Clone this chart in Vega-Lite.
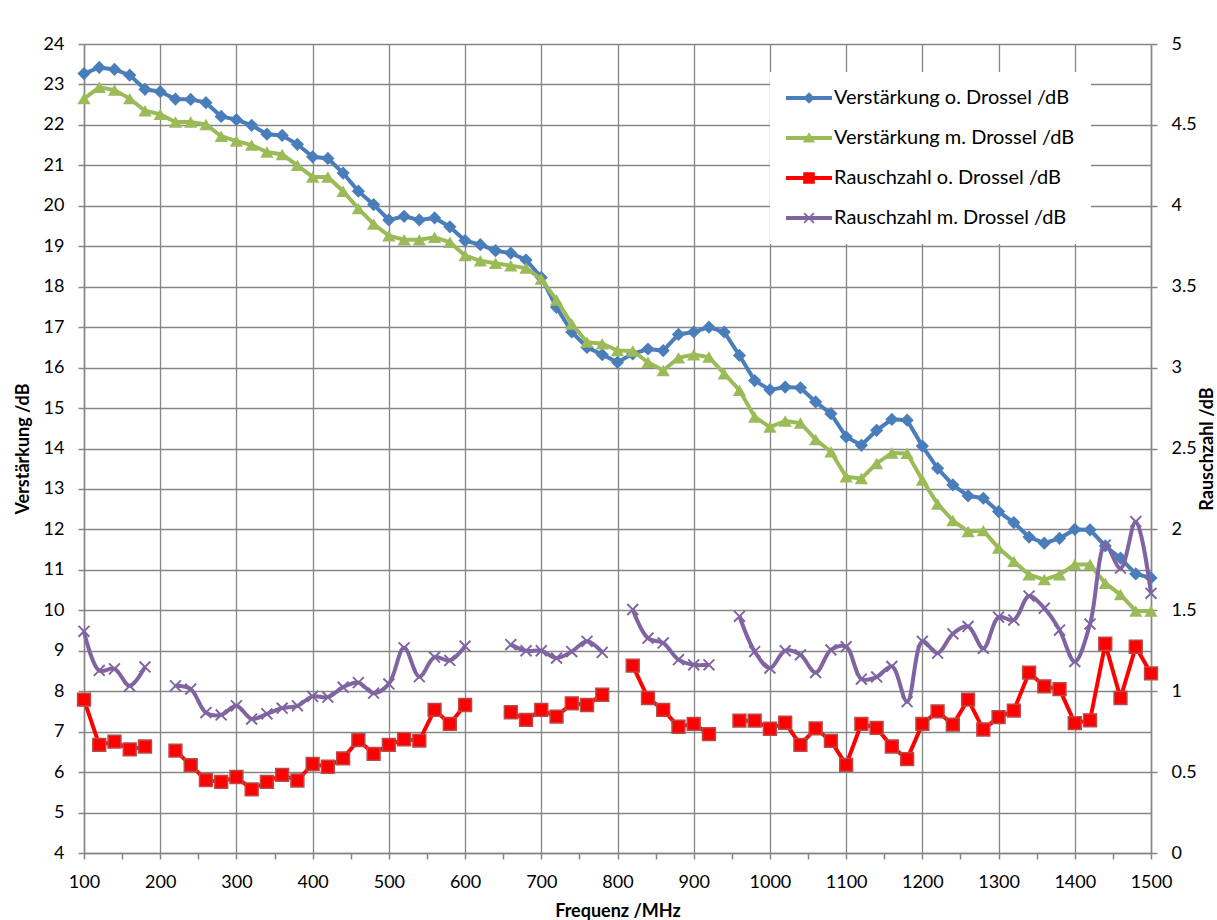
{
  "$schema": "https://vega.github.io/schema/vega-lite/v6.json",
  "width": 1067,
  "height": 809,
  "autosize": {"type": "none"},
  "padding": {"left": 84, "top": 44, "right": 66, "bottom": 67},
  "background": "white",
  "config": {
    "view": {"stroke": null},
    "font": "Lato",
    "axis": {
      "labelFont": "Lato", "labelFontSize": 18, "labelColor": "#000000",
      "titleFont": "Lato", "titleFontSize": 18, "titleFontWeight": "bold", "titleColor": "#000000",
      "domainColor": "#868686", "domainWidth": 1.5,
      "tickColor": "#868686", "tickWidth": 1.5, "tickSize": 6,
      "gridColor": "#868686", "gridWidth": 1.3,
      "labelPadding": 14, "labelOverlap": false, "labelFlush": false
    }
  },
  "data": {"values": [
    {"f":100,"vo":23.27,"vm":22.65,"ro":0.948,"rm":1.37},
    {"f":120,"vo":23.42,"vm":22.93,"ro":0.668,"rm":1.128},
    {"f":140,"vo":23.37,"vm":22.86,"ro":0.688,"rm":1.138},
    {"f":160,"vo":23.23,"vm":22.65,"ro":0.64,"rm":1.033},
    {"f":180,"vo":22.88,"vm":22.35,"ro":0.658,"rm":1.15},
    {"f":200,"vo":22.82,"vm":22.26,"ro":null,"rm":null},
    {"f":220,"vo":22.64,"vm":22.07,"ro":0.633,"rm":1.033},
    {"f":240,"vo":22.63,"vm":22.07,"ro":0.543,"rm":1.013},
    {"f":260,"vo":22.55,"vm":22.01,"ro":0.45,"rm":0.868},
    {"f":280,"vo":22.21,"vm":21.72,"ro":0.44,"rm":0.853},
    {"f":300,"vo":22.13,"vm":21.6,"ro":0.47,"rm":0.91},
    {"f":320,"vo":21.99,"vm":21.5,"ro":0.393,"rm":0.828},
    {"f":340,"vo":21.77,"vm":21.33,"ro":0.44,"rm":0.86},
    {"f":360,"vo":21.74,"vm":21.27,"ro":0.483,"rm":0.895},
    {"f":380,"vo":21.52,"vm":21.0,"ro":0.448,"rm":0.91},
    {"f":400,"vo":21.21,"vm":20.71,"ro":0.55,"rm":0.968},
    {"f":420,"vo":21.17,"vm":20.71,"ro":0.533,"rm":0.963},
    {"f":440,"vo":20.81,"vm":20.36,"ro":0.585,"rm":1.025},
    {"f":460,"vo":20.36,"vm":19.93,"ro":0.698,"rm":1.053},
    {"f":480,"vo":20.03,"vm":19.55,"ro":0.613,"rm":0.988},
    {"f":500,"vo":19.65,"vm":19.26,"ro":0.668,"rm":1.045},
    {"f":520,"vo":19.74,"vm":19.16,"ro":0.703,"rm":1.268},
    {"f":540,"vo":19.65,"vm":19.16,"ro":0.695,"rm":1.09},
    {"f":560,"vo":19.7,"vm":19.22,"ro":0.885,"rm":1.21},
    {"f":580,"vo":19.48,"vm":19.1,"ro":0.798,"rm":1.19},
    {"f":600,"vo":19.14,"vm":18.77,"ro":0.915,"rm":1.278},
    {"f":620,"vo":19.04,"vm":18.64,"ro":null,"rm":null},
    {"f":640,"vo":18.89,"vm":18.58,"ro":null,"rm":null},
    {"f":660,"vo":18.83,"vm":18.52,"ro":0.87,"rm":1.288},
    {"f":680,"vo":18.66,"vm":18.46,"ro":0.823,"rm":1.25},
    {"f":700,"vo":18.23,"vm":18.19,"ro":0.885,"rm":1.25},
    {"f":720,"vo":17.49,"vm":17.67,"ro":0.843,"rm":1.205},
    {"f":740,"vo":16.88,"vm":17.08,"ro":0.925,"rm":1.245},
    {"f":760,"vo":16.5,"vm":16.63,"ro":0.915,"rm":1.308},
    {"f":780,"vo":16.32,"vm":16.59,"ro":0.978,"rm":1.24},
    {"f":800,"vo":16.13,"vm":16.42,"ro":null,"rm":null},
    {"f":820,"vo":16.34,"vm":16.41,"ro":1.158,"rm":1.505},
    {"f":840,"vo":16.46,"vm":16.13,"ro":0.958,"rm":1.328},
    {"f":860,"vo":16.42,"vm":15.93,"ro":0.885,"rm":1.298},
    {"f":880,"vo":16.82,"vm":16.24,"ro":0.78,"rm":1.195},
    {"f":900,"vo":16.88,"vm":16.32,"ro":0.798,"rm":1.163},
    {"f":920,"vo":17.0,"vm":16.26,"ro":0.735,"rm":1.163},
    {"f":940,"vo":16.88,"vm":15.85,"ro":null,"rm":null},
    {"f":960,"vo":16.3,"vm":15.44,"ro":0.818,"rm":1.463},
    {"f":980,"vo":15.68,"vm":14.78,"ro":0.818,"rm":1.245},
    {"f":1000,"vo":15.45,"vm":14.53,"ro":0.768,"rm":1.143},
    {"f":1020,"vo":15.52,"vm":14.68,"ro":0.805,"rm":1.25},
    {"f":1040,"vo":15.5,"vm":14.63,"ro":0.668,"rm":1.225},
    {"f":1060,"vo":15.15,"vm":14.22,"ro":0.77,"rm":1.115},
    {"f":1080,"vo":14.86,"vm":13.92,"ro":0.693,"rm":1.255},
    {"f":1100,"vo":14.29,"vm":13.3,"ro":0.545,"rm":1.275},
    {"f":1120,"vo":14.08,"vm":13.26,"ro":0.798,"rm":1.075},
    {"f":1140,"vo":14.45,"vm":13.63,"ro":0.773,"rm":1.088},
    {"f":1160,"vo":14.72,"vm":13.89,"ro":0.658,"rm":1.153},
    {"f":1180,"vo":14.7,"vm":13.88,"ro":0.58,"rm":0.935},
    {"f":1200,"vo":14.06,"vm":13.22,"ro":0.798,"rm":1.308},
    {"f":1220,"vo":13.51,"vm":12.63,"ro":0.875,"rm":1.235},
    {"f":1240,"vo":13.1,"vm":12.22,"ro":0.793,"rm":1.355},
    {"f":1260,"vo":12.83,"vm":11.95,"ro":0.948,"rm":1.4},
    {"f":1280,"vo":12.77,"vm":11.97,"ro":0.763,"rm":1.265},
    {"f":1300,"vo":12.44,"vm":11.54,"ro":0.84,"rm":1.458},
    {"f":1320,"vo":12.17,"vm":11.21,"ro":0.88,"rm":1.44},
    {"f":1340,"vo":11.81,"vm":10.88,"ro":1.115,"rm":1.588},
    {"f":1360,"vo":11.66,"vm":10.76,"ro":1.03,"rm":1.513},
    {"f":1380,"vo":11.78,"vm":10.88,"ro":1.013,"rm":1.378},
    {"f":1400,"vo":12.0,"vm":11.13,"ro":0.803,"rm":1.183},
    {"f":1420,"vo":11.99,"vm":11.13,"ro":0.82,"rm":1.415},
    {"f":1440,"vo":11.59,"vm":10.67,"ro":1.293,"rm":1.903},
    {"f":1460,"vo":11.29,"vm":10.39,"ro":0.958,"rm":1.76},
    {"f":1480,"vo":10.9,"vm":9.98,"ro":1.275,"rm":2.048},
    {"f":1500,"vo":10.8,"vm":9.98,"ro":1.11,"rm":1.605}
  ]},
  "encoding": {
    "x": {
      "field": "f", "type": "quantitative",
      "scale": {"domain": [100, 1500], "nice": false, "zero": false},
      "axis": {
        "title": "Frequenz /MHz",
        "values": [100,150,200,250,300,350,400,450,500,550,600,650,700,750,800,850,900,950,1000,1050,1100,1150,1200,1250,1300,1350,1400,1450,1500],
        "labelExpr": "datum.value % 100 === 0 ? '' + datum.value : ''",
        "grid": true,
        "gridOpacity": {"condition": {"test": "datum.value % 100 !== 0", "value": 0}, "value": 1},
        "titlePadding": 11
      }
    },
    "color": {
      "field": "key", "type": "nominal",
      "scale": {"domain": ["vo", "vm", "ro", "rm"], "range": ["#4a7ebb", "#9bbb59", "#ff0000", "#8064a2"]},
      "legend": {
        "title": null,
        "orient": "none",
        "legendX": 686,
        "legendY": 28,
        "fillColor": "white",
        "padding": 16,
        "symbolSize": 400,
        "symbolStrokeWidth": 0,
        "labelOffset": 28,
        "rowPadding": 20,
        "labelFont": "Lato",
        "labelFontSize": 20,
        "labelColor": "#000000",
        "labelLimit": 400,
        "labelExpr": "datum.value === 'vo' ? 'Verstärkung o. Drossel /dB' : datum.value === 'vm' ? 'Verstärkung m. Drossel /dB' : datum.value === 'ro' ? 'Rauschzahl o. Drossel /dB' : 'Rauschzahl m. Drossel /dB'",
        "encode": {
          "symbols": {
            "update": {
              "shape": {"signal": "datum.value === 'vo' ? 'M-1,-0.19H3.6V0.19H-1Z M0.72,0L1.3,-0.58L1.88,0L1.3,0.58Z' : datum.value === 'vm' ? 'M-1,-0.19H3.6V0.19H-1Z M1.3,-0.58L1.92,0.45L0.68,0.45Z' : datum.value === 'ro' ? 'M-1,-0.19H3.6V0.19H-1Z M0.72,-0.58H1.88V0.58H0.72Z' : 'M-1,-0.19H3.6V0.19H-1Z M0.87,-0.554L1.3,-0.123L1.73,-0.554L1.854,-0.43L1.423,0L1.854,0.43L1.73,0.554L1.3,0.123L0.87,0.554L0.746,0.43L1.177,0L0.746,-0.43Z'"},
              "fill": {"signal": "scale('color', datum.value)"},
              "opacity": {"value": 1},
              "strokeWidth": {"value": 0}
            }
          }
        }
      }
    }
  },
  "layer": [
    {
      "encoding": {
        "y": {
          "field": "val", "type": "quantitative",
          "scale": {"domain": [4, 24], "nice": false, "zero": false},
          "axis": {
            "title": "Verstärkung /dB", "orient": "left",
            "values": [4,5,6,7,8,9,10,11,12,13,14,15,16,17,18,19,20,21,22,23,24],
            "format": "d", "grid": true, "titlePadding": 11
          }
        }
      },
      "layer": [
        {
          "transform": [{"fold": ["vo"], "as": ["key", "val"]}],
          "layer": [
            {"mark": {"type": "line", "strokeWidth": 4, "invalid": "break-paths-filter-domains"}},
            {"mark": {"type": "point", "shape": "diamond", "filled": true, "size": 175, "opacity": 1, "invalid": "filter"}}
          ]
        },
        {
          "transform": [{"fold": ["vm"], "as": ["key", "val"]}],
          "layer": [
            {"mark": {"type": "line", "strokeWidth": 4, "invalid": "break-paths-filter-domains"}},
            {"mark": {"type": "point", "shape": "triangle-up", "filled": true, "size": 175, "opacity": 1, "invalid": "filter"}}
          ]
        }
      ]
    },
    {
      "encoding": {
        "y": {
          "field": "val", "type": "quantitative",
          "scale": {"domain": [0, 5], "nice": false, "zero": false},
          "axis": {
            "title": "Rauschzahl /dB", "orient": "right", "titleAngle": 270,
            "values": [0,0.5,1,1.5,2,2.5,3,3.5,4,4.5,5],
            "format": "~g", "grid": false, "titlePadding": 20
          }
        }
      },
      "layer": [
        {
          "transform": [{"fold": ["ro"], "as": ["key", "val"]}],
          "layer": [
            {"mark": {"type": "line", "strokeWidth": 4, "invalid": "break-paths-filter-domains"}},
            {"mark": {"type": "point", "shape": "square", "filled": true, "size": 165, "opacity": 1, "stroke": "#b84a48", "strokeWidth": 1.5, "invalid": "filter"}}
          ]
        },
        {
          "transform": [{"fold": ["rm"], "as": ["key", "val"]}],
          "layer": [
            {"mark": {"type": "line", "strokeWidth": 4, "interpolate": "catmull-rom", "invalid": "break-paths-filter-domains"}},
            {"mark": {"type": "point", "shape": "M-0.742,-0.955L0,-0.212L0.742,-0.955L0.955,-0.742L0.212,0L0.955,0.742L0.742,0.955L0,0.212L-0.742,0.955L-0.955,0.742L-0.212,0L-0.955,-0.742Z", "filled": true, "size": 165, "opacity": 1, "invalid": "filter"}}
          ]
        }
      ]
    }
  ],
  "resolve": {"scale": {"y": "independent"}}
}
